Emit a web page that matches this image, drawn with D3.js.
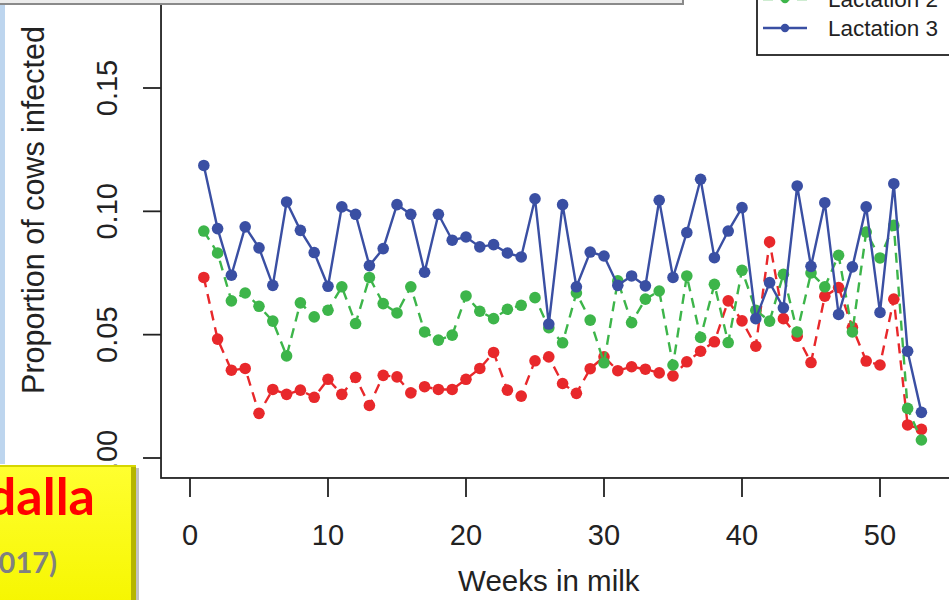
<!DOCTYPE html>
<html>
<head>
<meta charset="utf-8">
<script src="https://cdn.jsdelivr.net/npm/d3@7"></script>
<style>
  body { margin: 0; background: #fff; }
  svg { display: block; font-family: "Liberation Sans", Arial, sans-serif; }
</style>
</head>
<body>
<svg width="949" height="600"></svg>
<script>
var width = 949;
var height = 600;

// weeks in milk
var weeks = [1, 2, 3, 4, 5, 6, 7, 8, 9, 10, 11, 12, 13, 14, 15, 16, 17, 18, 19, 20,
             21, 22, 23, 24, 25, 26, 27, 28, 29, 30, 31, 32, 33, 34, 35, 36, 37, 38, 39, 40,
             41, 42, 43, 44, 45, 46, 47, 48, 49, 50, 51, 52, 53];

// proportion of cows infected
var lactation1 = [0.0732, 0.0482, 0.0356, 0.0363, 0.0181, 0.0278, 0.0258, 0.0275, 0.0246, 0.0319,
                  0.0258, 0.0327, 0.0213, 0.0335, 0.0329, 0.0264, 0.0289, 0.0278, 0.0278, 0.0319,
                  0.0363, 0.0428, 0.0275, 0.0251, 0.0394, 0.0410, 0.0302, 0.0262, 0.0362, 0.0410,
                  0.0354, 0.0370, 0.0360, 0.0345, 0.0333, 0.0390, 0.0433, 0.0471, 0.0637, 0.0556,
                  0.0453, 0.0876, 0.0565, 0.0494, 0.0387, 0.0656, 0.0691, 0.0530, 0.0393, 0.0377,
                  0.0644, 0.0134, 0.0116];
var lactation2 = [0.0920, 0.0831, 0.0637, 0.0669, 0.0615, 0.0555, 0.0414, 0.0629, 0.0572, 0.0599,
                  0.0694, 0.0545, 0.0732, 0.0626, 0.0588, 0.0694, 0.0511, 0.0478, 0.0498, 0.0657,
                  0.0595, 0.0565, 0.0603, 0.0619, 0.0650, 0.0528, 0.0467, 0.0669, 0.0559, 0.0386,
                  0.0718, 0.0549, 0.0644, 0.0677, 0.0377, 0.0738, 0.0489, 0.0704, 0.0468, 0.0761,
                  0.0599, 0.0555, 0.0745, 0.0511, 0.0750, 0.0694, 0.0822, 0.0511, 0.0916, 0.0811,
                  0.0943, 0.0201, 0.0073];
var lactation3 = [0.1186, 0.0930, 0.0741, 0.0937, 0.0852, 0.0700, 0.1038, 0.0923, 0.0833, 0.0696,
                  0.1018, 0.0988, 0.0780, 0.0849, 0.1027, 0.0988, 0.0753, 0.0988, 0.0883, 0.0896,
                  0.0856, 0.0865, 0.0831, 0.0815, 0.1051, 0.0543, 0.1027, 0.0694, 0.0835, 0.0819,
                  0.0700, 0.0738, 0.0698, 0.1045, 0.0732, 0.0914, 0.1130, 0.0812, 0.0920, 0.1015,
                  0.0565, 0.0711, 0.0609, 0.1103, 0.0777, 0.1035, 0.0582, 0.0775, 0.1018, 0.0590,
                  0.1112, 0.0433, 0.0185];

var xTicks = [0, 10, 20, 30, 40, 50];
var yTicks = [0.00, 0.05, 0.10, 0.15];
var yTickLabels = ['0.00', '0.05', '0.10', '0.15'];

var seriesNames = ['Lactation 1', 'Lactation 2', 'Lactation 3'];
var seriesColors = ['#e8282b', '#3db54a', '#3a4fa3'];
var seriesDash = ['10,7', '10,7', null];

var xScale = d3.scaleLinear().domain([0, 50]).range([190, 880]);
var yScale = d3.scaleLinear().domain([0, 0.15]).range([458, 88]);
var xLim = [-2.1, 58];
var yLim = [-0.0081, 0.208];

var svg = d3.select('svg');

svg.append('rect')
    .attr('width', width)
    .attr('height', height)
    .attr('fill', '#fff');

// slide bits around the figure
svg.append('rect')
    .attr('x', 0).attr('y', 4)
    .attr('width', 5).attr('height', 460)
    .attr('fill', '#bdd5ee');

// plot box
svg.append('rect')
    .attr('x', xScale(xLim[0]))
    .attr('y', yScale(yLim[1]))
    .attr('width', xScale(xLim[1]) - xScale(xLim[0]))
    .attr('height', yScale(yLim[0]) - yScale(yLim[1]))
    .attr('fill', 'none')
    .attr('stroke', '#222')
    .attr('stroke-width', 1.8);

var yAxisX = xScale(xLim[0]);
var xAxisY = yScale(yLim[0]);

// y axis ticks + labels
svg.append('g')
    .selectAll('line')
    .data(yTicks)
    .enter()
    .append('line')
        .attr('x1', yAxisX - 18)
        .attr('x2', yAxisX)
        .attr('y1', d => yScale(d))
        .attr('y2', d => yScale(d))
        .attr('stroke', '#222')
        .attr('stroke-width', 1.8);

svg.append('g')
    .selectAll('text')
    .data(yTicks)
    .enter()
    .append('text')
        .attr('transform', d => `translate(117, ${yScale(d)}) rotate(-90)`)
        .style('text-anchor', 'middle')
        .style('font-size', '29px')
        .attr('fill', '#222')
        .text((d, i) => yTickLabels[i]);

// x axis ticks + labels
svg.append('g')
    .selectAll('line')
    .data(xTicks)
    .enter()
    .append('line')
        .attr('x1', d => xScale(d))
        .attr('x2', d => xScale(d))
        .attr('y1', xAxisY)
        .attr('y2', xAxisY + 19)
        .attr('stroke', '#222')
        .attr('stroke-width', 1.8);

svg.append('g')
    .selectAll('text')
    .data(xTicks)
    .enter()
    .append('text')
        .attr('x', d => xScale(d))
        .attr('y', 545)
        .style('text-anchor', 'middle')
        .style('font-size', '29px')
        .attr('fill', '#222')
        .text(d => d);

svg.append('text')
    .attr('x', xScale(26))
    .attr('y', 591)
    .style('text-anchor', 'middle')
    .style('font-size', '29.5px')
    .attr('fill', '#222')
    .text('Weeks in milk');

svg.append('text')
    .attr('transform', 'translate(44, 210) rotate(-90)')
    .style('text-anchor', 'middle')
    .style('font-size', '30.5px')
    .attr('fill', '#222')
    .text('Proportion of cows infected');

// series
var allSeries = [lactation1, lactation2, lactation3];
var line = d3.line()
    .x(d => xScale(d.week))
    .y(d => yScale(d.value));

allSeries.forEach((values, i) => {
    var points = weeks.map((w, j) => ({week: w, value: values[j]}));
    var g = svg.append('g').classed('series', true);
    g.append('path')
        .attr('d', line(points))
        .attr('fill', 'none')
        .attr('stroke', seriesColors[i])
        .attr('stroke-width', 2.4)
        .attr('stroke-dasharray', seriesDash[i]);
    g.selectAll('circle')
        .data(points)
        .enter()
        .append('circle')
            .attr('cx', d => xScale(d.week))
            .attr('cy', d => yScale(d.value))
            .attr('r', 5.8)
            .attr('fill', seriesColors[i]);
});

// legend (mostly cut off at the top)
var legend = svg.append('g').attr('transform', 'translate(757, 0)');
legend.append('rect')
    .attr('x', 0).attr('y', -100)
    .attr('width', 260).attr('height', 155)
    .attr('fill', '#fff')
    .attr('stroke', '#222')
    .attr('stroke-width', 1.8);

seriesNames.forEach((name, i) => {
    var ly = 28 - (2 - i) * 29;
    legend.append('line')
        .attr('x1', 6).attr('x2', 50)
        .attr('y1', ly).attr('y2', ly)
        .attr('stroke', seriesColors[i])
        .attr('stroke-width', 2.4)
        .attr('stroke-dasharray', seriesDash[i]);
    legend.append('circle')
        .attr('cx', 28).attr('cy', ly)
        .attr('r', 4.2)
        .attr('fill', seriesColors[i]);
    legend.append('text')
        .attr('x', 71)
        .attr('y', ly + 8)
        .style('font-size', '22.5px')
        .attr('fill', '#222')
        .text(name);
});

// grey box at the top of the slide
svg.append('rect')
    .attr('x', -5).attr('y', -20)
    .attr('width', 688).attr('height', 24)
    .attr('fill', '#ececec')
    .attr('stroke', '#8a8a8a')
    .attr('stroke-width', 2);

// yellow citation box
var defs = svg.append('defs');
var grad = defs.append('linearGradient')
    .attr('id', 'yellowGrad')
    .attr('x1', 0).attr('y1', 0).attr('x2', 0).attr('y2', 1);
grad.append('stop').attr('offset', '0%').attr('stop-color', '#ffff30');
grad.append('stop').attr('offset', '100%').attr('stop-color', '#f6f600');

svg.append('rect')
    .attr('x', -5).attr('y', 468)
    .attr('width', 144).attr('height', 140)
    .attr('fill', '#9a9a9a')
    .attr('opacity', 0.6);
svg.append('rect')
    .attr('x', -5).attr('y', 465)
    .attr('width', 141).attr('height', 140)
    .attr('fill', '#b5b500');
svg.append('rect')
    .attr('x', -5).attr('y', 465)
    .attr('width', 136).attr('height', 140)
    .attr('fill', 'url(#yellowGrad)');
svg.append('rect')
    .attr('x', -5).attr('y', 465)
    .attr('width', 141).attr('height', 2)
    .attr('fill', '#d6d600');

svg.append('text')
    .attr('x', 95)
    .attr('y', 515)
    .style('text-anchor', 'end')
    .style('font-family', 'Lato, sans-serif')
    .style('font-weight', 'bold')
    .style('font-size', '52px')
    .attr('fill', '#ff0000')
    .text('dalla');

svg.append('text')
    .attr('x', 57)
    .attr('y', 573)
    .style('text-anchor', 'end')
    .style('font-family', 'Lato, sans-serif')
    .style('font-weight', 'bold')
    .style('font-size', '29px')
    .attr('fill', '#808080')
    .text('017)');
</script>
</body>
</html>
